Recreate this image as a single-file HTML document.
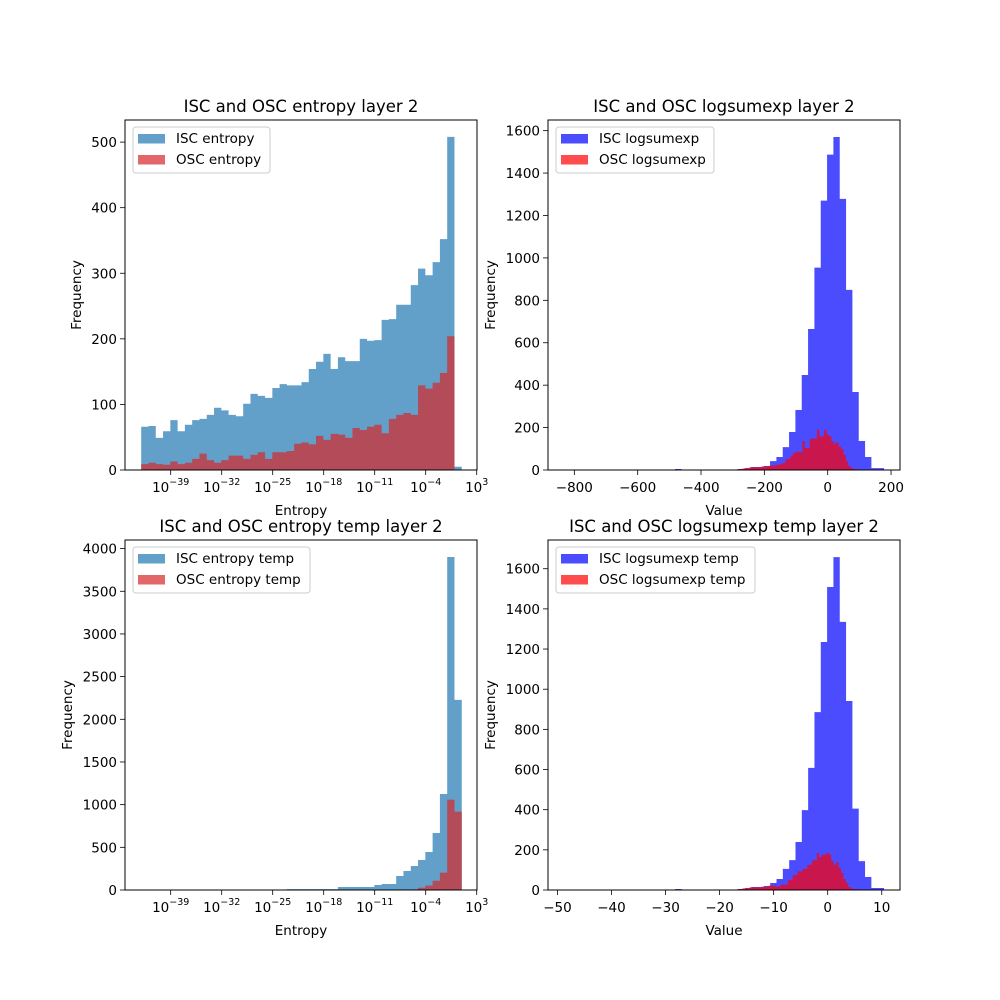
<!DOCTYPE html>
<html><head><meta charset="utf-8"><style>
html,body{margin:0;padding:0;background:#fff;}
svg{display:block;font-family:"DejaVu Sans","Liberation Sans",sans-serif;}
</style></head><body>
<svg id="fig" width="1000" height="1000" viewBox="0 0 1000 1000" xmlns="http://www.w3.org/2000/svg"></svg>
<script>
// ---- data: top-left (entropy, log bins of 1 decade starting at 10^-43.05)
const entBins = 44;
const entIsc = [66,67,49,59,76,59,69,76,78,84,95,91,84,82,101,116,113,110,125,131,129,129,134,154,165,177,154,172,166,166,200,197,198,229,230,252,252,282,307,297,317,352,508,5];
const entOsc = [9,11,9,8,13,9,11,17,25,15,11,15,22,22,17,23,27,17,27,27,29,40,42,39,52,46,55,54,49,64,61,66,69,56,78,84,87,84,129,124,133,148,204,0];
// ---- bottom-left (entropy temp)
const entTIsc = [0,0,0,0,0,0,0,0,0,0,0,0,0,0,0,0,0,0,0,0,10,10,10,10,10,10,10,35,35,35,35,35,58,70,70,164,223,281,352,445,668,1125,3902,2227];
const entTOsc = [0,0,0,0,0,0,0,0,0,0,0,0,0,0,0,0,0,0,0,0,0,0,0,0,0,0,0,0,0,0,0,0,0,0,0,0,5,8,27,51,109,203,1059,918];
// ---- top-right (logsumexp), 50 bins
const lseIsc = [0,0,0,0,0,0,0,0,0,0,0,0,0,0,0,0,0,5,0,0,0,0,0,0,0,0,2,5,9,14,14,19,42,61,108,179,283,448,665,954,1270,1487,1570,1278,849,368,137,61,9,9];
const lseOsc = [5,5,7,8,8,13,13,13,13,13,17,17,17,20,20,22,24,26,30,33,52,52,65,79,86,86,83,137,104,104,146,148,148,190,159,159,190,168,159,135,124,130,110,99,72,42,19,9,5,5];
// ---- bottom-right (logsumexp temp), 50 bins
const lseTIsc = [0,0,0,0,0,0,0,0,0,0,0,0,0,0,0,0,0,5,0,0,0,0,0,0,0,0,2,5,10,15,15,20,35,55,105,149,239,398,608,886,1235,1509,1658,1335,941,405,144,65,10,10];
const lseTOsc = [5,5,8,8,8,13,13,13,13,13,17,17,17,22,22,22,17,17,27,27,27,51,51,75,75,93,93,105,105,126,126,148,148,184,164,176,176,184,176,143,126,138,110,85,55,35,15,8,5,5];
// tick labels
const logTickExp = [-39,-32,-25,-18,-11,-4,3];
const lseTicksX = [-800,-600,-400,-200,0,200];
const lseTTicksX = [-50,-40,-30,-20,-10,0,10];
const entTicksY = [0,100,200,300,400,500];
const entTTicksY = [0,500,1000,1500,2000,2500,3000,3500,4000];
const lseTicksY = [0,200,400,600,800,1000,1200,1400,1600];

const NS="http://www.w3.org/2000/svg";
const fig=document.getElementById('fig');
function mk(tag,attrs,parent){const e=document.createElementNS(NS,tag);for(const k in attrs)e.setAttribute(k,attrs[k]);(parent||fig).appendChild(e);return e;}

function panel(o){
  const g=mk('g',{});
  
  
  const L=o.L,T=o.T,W=352,H=350,B=T+H;
  const X=o.xf, Y=v=>B-(v-0)*o.ys;
  [[o.isc,o.lo1,o.w1,o.c1,'isc-bars'],[o.osc,o.lo2,o.w2,o.c2,'osc-bars']].forEach(([arr,lo,w,col,nm])=>{
    let d='M'+X(lo)+','+B;
    arr.forEach((v,i)=>{
      const x0=X(lo+i*w),x1=X(lo+(i+1)*w),y=Y(v);
      d+=' L'+x0+','+y+' L'+x1+','+y;
    });
    d+=' L'+X(lo+arr.length*w)+','+B+' Z';
    const p=mk('path',{d:d,fill:col,'fill-opacity':0.7},g);
    
    
  });
  const f=mk('rect',{x:L,y:T,width:W,height:H,fill:'none',stroke:'#000','stroke-width':1},g);
  
  
  o.yt.forEach(v=>{
    const y=Y(v);
    mk('line',{x1:L-5,x2:L,y1:y,y2:y,stroke:'#000','stroke-width':0.8},g);
    const t=mk('text',{x:L-8,y:y+5,'text-anchor':'end','font-size':13.5},g);
    t.textContent=String(v).replace('-','\u2212');
    
    
  });
  o.xt.forEach(v=>{
    const x=X(v);
    mk('line',{x1:x,x2:x,y1:B,y2:B+5,stroke:'#000','stroke-width':0.8},g);
    const t=mk('text',{x:x,y:B+22,'text-anchor':'middle','font-size':13.5},g);
    if(o.log){
      const a=mk('tspan',{},t);a.textContent='10';
      const b=mk('tspan',{dy:-7,'font-size':9.5},t);b.textContent=String(v).replace('-','\u2212');
    } else t.textContent=String(v).replace('-','\u2212');
    
    
  });
  const ti=mk('text',{x:L+W/2,y:T-8,'text-anchor':'middle','font-size':16.5},g);
  ti.textContent=o.title;
  
  
  const xl=mk('text',{x:L+W/2,y:B+45,'text-anchor':'middle','font-size':13.5},g);
  xl.textContent=o.xlabel;
  
  
  const yl=mk('text',{x:0,y:0,'text-anchor':'middle','font-size':13.5,transform:`translate(${o.ylx},${T+H/2}) rotate(-90)`},g);
  yl.textContent='Frequency';
  
  
  const lg=mk('g',{},g);
  
  
  mk('rect',{x:L+8,y:T+7,width:o.legW,height:46,rx:3,fill:'#fff','fill-opacity':0.8,stroke:'#ccc','stroke-width':1},lg);
  [[o.c1,o.l1,0],[o.c2,o.l2,21]].forEach(([c,lab,dy])=>{
    const p=mk('rect',{x:L+13,y:T+14+dy,width:27,height:9.5,fill:c,'fill-opacity':0.7},lg);
    
    
    const t=mk('text',{x:L+51,y:T+23+dy,'font-size':13.5},lg);
    t.textContent=lab;
    
    
  });
}
const logX=e=>170.7+(e+39)*51/7;
panel({name:'entropy-panel',L:125,T:120,xf:logX,ys:0.6558,log:true,xt:logTickExp,yt:entTicksY,
  isc:entIsc,osc:entOsc,lo1:-43.05,w1:1,lo2:-43.05,w2:1,c1:'#1f77b4',c2:'#d62728',
  title:'ISC and OSC entropy layer 2',xlabel:'Entropy',ylx:81,l1:'ISC entropy',l2:'OSC entropy',legW:137});
panel({name:'logsumexp-panel',L:548,T:120,xf:v=>827.7+v*0.3167,ys:0.2121,log:false,xt:lseTicksX,yt:lseTicksY,
  isc:lseIsc,osc:lseOsc,lo1:-822,w1:20,lo2:-285.5,w2:7.62,c1:'#0000ff',c2:'#ff0000',
  title:'ISC and OSC logsumexp layer 2',xlabel:'Value',ylx:495,l1:'ISC logsumexp',l2:'OSC logsumexp',legW:158});
panel({name:'entropy-temp-panel',L:125,T:540,xf:logX,ys:0.08535,log:true,xt:logTickExp,yt:entTTicksY,
  isc:entTIsc,osc:entTOsc,lo1:-43.05,w1:1,lo2:-43.05,w2:1,c1:'#1f77b4',c2:'#d62728',
  title:'ISC and OSC entropy temp layer 2',xlabel:'Entropy',ylx:72,l1:'ISC entropy temp',l2:'OSC entropy temp',legW:177});
panel({name:'logsumexp-temp-panel',L:548,T:540,xf:v=>827.7+v*5.405,ys:0.2008,log:false,xt:lseTTicksX,yt:lseTicksY,
  isc:lseTIsc,osc:lseTOsc,lo1:-48.08,w1:1.17,lo2:-16.72,w2:0.446,c1:'#0000ff',c2:'#ff0000',
  title:'ISC and OSC logsumexp temp layer 2',xlabel:'Value',ylx:495,l1:'ISC logsumexp temp',l2:'OSC logsumexp temp',legW:199});
</script>
</body></html>
